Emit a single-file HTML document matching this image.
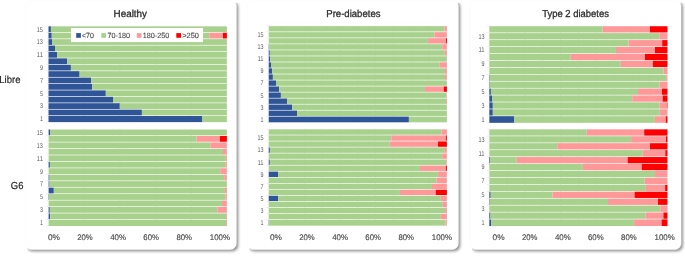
<!DOCTYPE html>
<html><head><meta charset="utf-8"><style>
html,body{margin:0;padding:0;background:#fff;}
body{width:685px;height:256px;overflow:hidden;position:relative;font-family:"Liberation Sans",sans-serif;}
svg{position:absolute;left:0;top:0;will-change:transform;}
text{font-family:"Liberation Sans",sans-serif;text-rendering:geometricPrecision;}
.yl{font-size:6.9px;fill:#5a5a5a;}
.xl{font-size:8.1px;fill:#4a4a4a;stroke:#4a4a4a;stroke-width:0.15px;}
.lg{font-size:7.5px;fill:#4a4a4a;stroke:#4a4a4a;stroke-width:0.12px;}
.tt{font-size:10.1px;fill:#2e2e2e;stroke:#2e2e2e;stroke-width:0.3px;}
.sd{font-size:10.1px;fill:#262626;stroke:#262626;stroke-width:0.2px;}
</style></head><body>
<svg width="685" height="256" viewBox="0 0 685 256">
<defs><filter id="sh" x="-5%" y="-5%" width="110%" height="110%"><feGaussianBlur stdDeviation="1.6"/></filter></defs>
<clipPath id="cp0"><rect x="27.5" y="2.7" width="221.6" height="260"/></clipPath>
<g clip-path="url(#cp0)"><rect x="26.6" y="1.3" width="211.6" height="250" rx="6" fill="#000" opacity="0.45" filter="url(#sh)"/></g>
<rect x="25.25" y="-0.05" width="211.1" height="249.5" rx="6" fill="#fff" stroke="#f8f8f8" stroke-width="0.5"/>
<clipPath id="cp1"><rect x="249.5" y="2.7" width="221.6" height="260"/></clipPath>
<g clip-path="url(#cp1)"><rect x="248.6" y="1.3" width="211.6" height="250" rx="6" fill="#000" opacity="0.45" filter="url(#sh)"/></g>
<rect x="247.25" y="-0.05" width="211.1" height="249.5" rx="6" fill="#fff" stroke="#f8f8f8" stroke-width="0.5"/>
<clipPath id="cp2"><rect x="472.2" y="2.7" width="221.6" height="260"/></clipPath>
<g clip-path="url(#cp2)"><rect x="471.3" y="1.3" width="211.6" height="250" rx="6" fill="#000" opacity="0.45" filter="url(#sh)"/></g>
<rect x="469.95" y="-0.05" width="211.1" height="249.5" rx="6" fill="#fff" stroke="#f8f8f8" stroke-width="0.5"/>

<line x1="84.18" y1="26" x2="84.18" y2="122.1" stroke="#d9d9d9" stroke-width="0.5"/>
<line x1="119.86" y1="26" x2="119.86" y2="122.1" stroke="#d9d9d9" stroke-width="0.5"/>
<line x1="155.54" y1="26" x2="155.54" y2="122.1" stroke="#d9d9d9" stroke-width="0.5"/>
<line x1="191.22" y1="26" x2="191.22" y2="122.1" stroke="#d9d9d9" stroke-width="0.5"/>
<line x1="46.3" y1="26" x2="48.5" y2="26" stroke="#d8d8d8" stroke-width="0.5"/>
<line x1="46.3" y1="32.41" x2="48.5" y2="32.41" stroke="#d8d8d8" stroke-width="0.5"/>
<line x1="46.3" y1="38.81" x2="48.5" y2="38.81" stroke="#d8d8d8" stroke-width="0.5"/>
<line x1="46.3" y1="45.22" x2="48.5" y2="45.22" stroke="#d8d8d8" stroke-width="0.5"/>
<line x1="46.3" y1="51.63" x2="48.5" y2="51.63" stroke="#d8d8d8" stroke-width="0.5"/>
<line x1="46.3" y1="58.03" x2="48.5" y2="58.03" stroke="#d8d8d8" stroke-width="0.5"/>
<line x1="46.3" y1="64.44" x2="48.5" y2="64.44" stroke="#d8d8d8" stroke-width="0.5"/>
<line x1="46.3" y1="70.85" x2="48.5" y2="70.85" stroke="#d8d8d8" stroke-width="0.5"/>
<line x1="46.3" y1="77.25" x2="48.5" y2="77.25" stroke="#d8d8d8" stroke-width="0.5"/>
<line x1="46.3" y1="83.66" x2="48.5" y2="83.66" stroke="#d8d8d8" stroke-width="0.5"/>
<line x1="46.3" y1="90.07" x2="48.5" y2="90.07" stroke="#d8d8d8" stroke-width="0.5"/>
<line x1="46.3" y1="96.47" x2="48.5" y2="96.47" stroke="#d8d8d8" stroke-width="0.5"/>
<line x1="46.3" y1="102.88" x2="48.5" y2="102.88" stroke="#d8d8d8" stroke-width="0.5"/>
<line x1="46.3" y1="109.29" x2="48.5" y2="109.29" stroke="#d8d8d8" stroke-width="0.5"/>
<line x1="46.3" y1="115.69" x2="48.5" y2="115.69" stroke="#d8d8d8" stroke-width="0.5"/>
<line x1="46.3" y1="122.1" x2="48.5" y2="122.1" stroke="#d8d8d8" stroke-width="0.5"/>
<rect x="48.5" y="26.32" width="2.4" height="5.76" fill="#2F5597"/>
<rect x="50.9" y="26.32" width="176" height="5.76" fill="#A9D18E"/>
<rect x="48.5" y="32.73" width="3.25" height="5.76" fill="#2F5597"/>
<rect x="51.75" y="32.73" width="157.45" height="5.76" fill="#A9D18E"/>
<rect x="209.2" y="32.73" width="13.8" height="5.76" fill="#FF9999"/>
<rect x="223" y="32.73" width="3.9" height="5.76" fill="#FF0000"/>
<rect x="48.5" y="39.14" width="3.6" height="5.76" fill="#2F5597"/>
<rect x="52.1" y="39.14" width="174.8" height="5.76" fill="#A9D18E"/>
<rect x="48.5" y="45.55" width="6.5" height="5.76" fill="#2F5597"/>
<rect x="55" y="45.55" width="171.9" height="5.76" fill="#A9D18E"/>
<rect x="48.5" y="51.95" width="8.6" height="5.76" fill="#2F5597"/>
<rect x="57.1" y="51.95" width="169.8" height="5.76" fill="#A9D18E"/>
<rect x="48.5" y="58.36" width="18.6" height="5.76" fill="#2F5597"/>
<rect x="67.1" y="58.36" width="159.8" height="5.76" fill="#A9D18E"/>
<rect x="48.5" y="64.77" width="22.4" height="5.76" fill="#2F5597"/>
<rect x="70.9" y="64.77" width="156" height="5.76" fill="#A9D18E"/>
<rect x="48.5" y="71.17" width="31.1" height="5.76" fill="#2F5597"/>
<rect x="79.6" y="71.17" width="147.3" height="5.76" fill="#A9D18E"/>
<rect x="48.5" y="77.58" width="42.7" height="5.76" fill="#2F5597"/>
<rect x="91.2" y="77.58" width="135.7" height="5.76" fill="#A9D18E"/>
<rect x="48.5" y="83.98" width="43.7" height="5.76" fill="#2F5597"/>
<rect x="92.2" y="83.98" width="134.7" height="5.76" fill="#A9D18E"/>
<rect x="48.5" y="90.39" width="57.3" height="5.76" fill="#2F5597"/>
<rect x="105.8" y="90.39" width="121.1" height="5.76" fill="#A9D18E"/>
<rect x="48.5" y="96.8" width="64.5" height="5.76" fill="#2F5597"/>
<rect x="113" y="96.8" width="113.9" height="5.76" fill="#A9D18E"/>
<rect x="48.5" y="103.2" width="71.3" height="5.76" fill="#2F5597"/>
<rect x="119.8" y="103.2" width="107.1" height="5.76" fill="#A9D18E"/>
<rect x="48.5" y="109.61" width="93.4" height="5.76" fill="#2F5597"/>
<rect x="141.9" y="109.61" width="85" height="5.76" fill="#A9D18E"/>
<rect x="48.5" y="116.02" width="153.5" height="6.11" fill="#2F5597"/>
<rect x="202" y="116.02" width="24.9" height="6.11" fill="#A9D18E"/>
<line x1="84.26" y1="129.2" x2="84.26" y2="226" stroke="#d9d9d9" stroke-width="0.5"/>
<line x1="119.92" y1="129.2" x2="119.92" y2="226" stroke="#d9d9d9" stroke-width="0.5"/>
<line x1="155.58" y1="129.2" x2="155.58" y2="226" stroke="#d9d9d9" stroke-width="0.5"/>
<line x1="191.24" y1="129.2" x2="191.24" y2="226" stroke="#d9d9d9" stroke-width="0.5"/>
<line x1="46.4" y1="129.2" x2="48.6" y2="129.2" stroke="#d8d8d8" stroke-width="0.5"/>
<line x1="46.4" y1="135.65" x2="48.6" y2="135.65" stroke="#d8d8d8" stroke-width="0.5"/>
<line x1="46.4" y1="142.11" x2="48.6" y2="142.11" stroke="#d8d8d8" stroke-width="0.5"/>
<line x1="46.4" y1="148.56" x2="48.6" y2="148.56" stroke="#d8d8d8" stroke-width="0.5"/>
<line x1="46.4" y1="155.01" x2="48.6" y2="155.01" stroke="#d8d8d8" stroke-width="0.5"/>
<line x1="46.4" y1="161.47" x2="48.6" y2="161.47" stroke="#d8d8d8" stroke-width="0.5"/>
<line x1="46.4" y1="167.92" x2="48.6" y2="167.92" stroke="#d8d8d8" stroke-width="0.5"/>
<line x1="46.4" y1="174.37" x2="48.6" y2="174.37" stroke="#d8d8d8" stroke-width="0.5"/>
<line x1="46.4" y1="180.83" x2="48.6" y2="180.83" stroke="#d8d8d8" stroke-width="0.5"/>
<line x1="46.4" y1="187.28" x2="48.6" y2="187.28" stroke="#d8d8d8" stroke-width="0.5"/>
<line x1="46.4" y1="193.73" x2="48.6" y2="193.73" stroke="#d8d8d8" stroke-width="0.5"/>
<line x1="46.4" y1="200.19" x2="48.6" y2="200.19" stroke="#d8d8d8" stroke-width="0.5"/>
<line x1="46.4" y1="206.64" x2="48.6" y2="206.64" stroke="#d8d8d8" stroke-width="0.5"/>
<line x1="46.4" y1="213.09" x2="48.6" y2="213.09" stroke="#d8d8d8" stroke-width="0.5"/>
<line x1="46.4" y1="219.55" x2="48.6" y2="219.55" stroke="#d8d8d8" stroke-width="0.5"/>
<line x1="46.4" y1="226" x2="48.6" y2="226" stroke="#d8d8d8" stroke-width="0.5"/>
<rect x="48.6" y="129.52" width="1.4" height="5.8" fill="#2F5597"/>
<rect x="50" y="129.52" width="176.9" height="5.8" fill="#A9D18E"/>
<rect x="48.6" y="135.98" width="148" height="5.8" fill="#A9D18E"/>
<rect x="196.6" y="135.98" width="23.4" height="5.8" fill="#FF9999"/>
<rect x="220" y="135.98" width="6.9" height="5.8" fill="#FF0000"/>
<rect x="48.6" y="142.43" width="161.7" height="5.8" fill="#A9D18E"/>
<rect x="210.3" y="142.43" width="16.6" height="5.8" fill="#FF9999"/>
<rect x="48.6" y="148.88" width="174.4" height="5.8" fill="#A9D18E"/>
<rect x="223" y="148.88" width="3.9" height="5.8" fill="#FF9999"/>
<rect x="48.6" y="155.34" width="177.3" height="5.8" fill="#A9D18E"/>
<rect x="225.9" y="155.34" width="1" height="5.8" fill="#FF9999"/>
<rect x="48.6" y="161.79" width="1.3" height="5.8" fill="#2F5597"/>
<rect x="49.9" y="161.79" width="175.4" height="5.8" fill="#A9D18E"/>
<rect x="225.3" y="161.79" width="1.6" height="5.8" fill="#FF9999"/>
<rect x="48.6" y="168.24" width="171.6" height="5.8" fill="#A9D18E"/>
<rect x="220.2" y="168.24" width="6.7" height="5.8" fill="#FF9999"/>
<rect x="48.6" y="174.7" width="0.9" height="5.8" fill="#2F5597"/>
<rect x="49.5" y="174.7" width="174.7" height="5.8" fill="#A9D18E"/>
<rect x="224.2" y="174.7" width="2.7" height="5.8" fill="#FF9999"/>
<rect x="48.6" y="181.15" width="0.9" height="5.8" fill="#2F5597"/>
<rect x="49.5" y="181.15" width="177.4" height="5.8" fill="#A9D18E"/>
<rect x="48.6" y="187.6" width="5.2" height="5.8" fill="#2F5597"/>
<rect x="53.8" y="187.6" width="171.1" height="5.8" fill="#A9D18E"/>
<rect x="224.9" y="187.6" width="2" height="5.8" fill="#FF9999"/>
<rect x="48.6" y="194.06" width="0.4" height="5.8" fill="#2F5597"/>
<rect x="49" y="194.06" width="176.4" height="5.8" fill="#A9D18E"/>
<rect x="225.4" y="194.06" width="1.5" height="5.8" fill="#FF9999"/>
<rect x="48.6" y="200.51" width="173.4" height="5.8" fill="#A9D18E"/>
<rect x="222" y="200.51" width="4.9" height="5.8" fill="#FF9999"/>
<rect x="48.6" y="206.96" width="1.2" height="5.8" fill="#2F5597"/>
<rect x="49.8" y="206.96" width="167.6" height="5.8" fill="#A9D18E"/>
<rect x="217.4" y="206.96" width="9.5" height="5.8" fill="#FF9999"/>
<rect x="48.6" y="213.42" width="1.6" height="5.8" fill="#2F5597"/>
<rect x="50.2" y="213.42" width="175.8" height="5.8" fill="#A9D18E"/>
<rect x="226" y="213.42" width="0.9" height="5.8" fill="#FF9999"/>
<rect x="48.6" y="219.87" width="177.4" height="6.15" fill="#A9D18E"/>
<rect x="226" y="219.87" width="0.9" height="6.15" fill="#FF9999"/>
<line x1="286.52" y1="25.8" x2="286.52" y2="122.3" stroke="#d9d9d9" stroke-width="0.5"/>
<line x1="304.34" y1="25.8" x2="304.34" y2="122.3" stroke="#d9d9d9" stroke-width="0.5"/>
<line x1="322.16" y1="25.8" x2="322.16" y2="122.3" stroke="#d9d9d9" stroke-width="0.5"/>
<line x1="339.98" y1="25.8" x2="339.98" y2="122.3" stroke="#d9d9d9" stroke-width="0.5"/>
<line x1="357.8" y1="25.8" x2="357.8" y2="122.3" stroke="#d9d9d9" stroke-width="0.5"/>
<line x1="375.62" y1="25.8" x2="375.62" y2="122.3" stroke="#d9d9d9" stroke-width="0.5"/>
<line x1="393.44" y1="25.8" x2="393.44" y2="122.3" stroke="#d9d9d9" stroke-width="0.5"/>
<line x1="411.26" y1="25.8" x2="411.26" y2="122.3" stroke="#d9d9d9" stroke-width="0.5"/>
<line x1="429.08" y1="25.8" x2="429.08" y2="122.3" stroke="#d9d9d9" stroke-width="0.5"/>
<line x1="266.5" y1="25.8" x2="268.7" y2="25.8" stroke="#d8d8d8" stroke-width="0.5"/>
<line x1="266.5" y1="31.83" x2="268.7" y2="31.83" stroke="#d8d8d8" stroke-width="0.5"/>
<line x1="266.5" y1="37.86" x2="268.7" y2="37.86" stroke="#d8d8d8" stroke-width="0.5"/>
<line x1="266.5" y1="43.89" x2="268.7" y2="43.89" stroke="#d8d8d8" stroke-width="0.5"/>
<line x1="266.5" y1="49.92" x2="268.7" y2="49.92" stroke="#d8d8d8" stroke-width="0.5"/>
<line x1="266.5" y1="55.96" x2="268.7" y2="55.96" stroke="#d8d8d8" stroke-width="0.5"/>
<line x1="266.5" y1="61.99" x2="268.7" y2="61.99" stroke="#d8d8d8" stroke-width="0.5"/>
<line x1="266.5" y1="68.02" x2="268.7" y2="68.02" stroke="#d8d8d8" stroke-width="0.5"/>
<line x1="266.5" y1="74.05" x2="268.7" y2="74.05" stroke="#d8d8d8" stroke-width="0.5"/>
<line x1="266.5" y1="80.08" x2="268.7" y2="80.08" stroke="#d8d8d8" stroke-width="0.5"/>
<line x1="266.5" y1="86.11" x2="268.7" y2="86.11" stroke="#d8d8d8" stroke-width="0.5"/>
<line x1="266.5" y1="92.14" x2="268.7" y2="92.14" stroke="#d8d8d8" stroke-width="0.5"/>
<line x1="266.5" y1="98.17" x2="268.7" y2="98.17" stroke="#d8d8d8" stroke-width="0.5"/>
<line x1="266.5" y1="104.21" x2="268.7" y2="104.21" stroke="#d8d8d8" stroke-width="0.5"/>
<line x1="266.5" y1="110.24" x2="268.7" y2="110.24" stroke="#d8d8d8" stroke-width="0.5"/>
<line x1="266.5" y1="116.27" x2="268.7" y2="116.27" stroke="#d8d8d8" stroke-width="0.5"/>
<line x1="266.5" y1="122.3" x2="268.7" y2="122.3" stroke="#d8d8d8" stroke-width="0.5"/>
<rect x="268.7" y="26.12" width="175.8" height="5.38" fill="#A9D18E"/>
<rect x="444.5" y="26.12" width="2.4" height="5.38" fill="#FF9999"/>
<rect x="268.7" y="32.16" width="165.7" height="5.38" fill="#A9D18E"/>
<rect x="434.4" y="32.16" width="12.5" height="5.38" fill="#FF9999"/>
<rect x="268.7" y="38.19" width="159.4" height="5.38" fill="#A9D18E"/>
<rect x="428.1" y="38.19" width="17.7" height="5.38" fill="#FF9999"/>
<rect x="445.8" y="38.19" width="1.1" height="5.38" fill="#FF0000"/>
<rect x="268.7" y="44.22" width="0.4" height="5.38" fill="#2F5597"/>
<rect x="269.1" y="44.22" width="173.1" height="5.38" fill="#A9D18E"/>
<rect x="442.2" y="44.22" width="4.7" height="5.38" fill="#FF9999"/>
<rect x="268.7" y="50.25" width="1.1" height="5.38" fill="#2F5597"/>
<rect x="269.8" y="50.25" width="175" height="5.38" fill="#A9D18E"/>
<rect x="444.8" y="50.25" width="2.1" height="5.38" fill="#FF9999"/>
<rect x="268.7" y="56.28" width="1.4" height="5.38" fill="#2F5597"/>
<rect x="270.1" y="56.28" width="176.8" height="5.38" fill="#A9D18E"/>
<rect x="268.7" y="62.31" width="2.3" height="5.38" fill="#2F5597"/>
<rect x="271" y="62.31" width="168.8" height="5.38" fill="#A9D18E"/>
<rect x="439.8" y="62.31" width="7.1" height="5.38" fill="#FF9999"/>
<rect x="268.7" y="68.34" width="3.4" height="5.38" fill="#2F5597"/>
<rect x="272.1" y="68.34" width="172.9" height="5.38" fill="#A9D18E"/>
<rect x="445" y="68.34" width="1.9" height="5.38" fill="#FF9999"/>
<rect x="268.7" y="74.38" width="4.2" height="5.38" fill="#2F5597"/>
<rect x="272.9" y="74.38" width="172.1" height="5.38" fill="#A9D18E"/>
<rect x="445" y="74.38" width="1.9" height="5.38" fill="#FF9999"/>
<rect x="268.7" y="80.41" width="7.3" height="5.38" fill="#2F5597"/>
<rect x="276" y="80.41" width="170.9" height="5.38" fill="#A9D18E"/>
<rect x="268.7" y="86.44" width="10.5" height="5.38" fill="#2F5597"/>
<rect x="279.2" y="86.44" width="145.8" height="5.38" fill="#A9D18E"/>
<rect x="425" y="86.44" width="18.75" height="5.38" fill="#FF9999"/>
<rect x="443.75" y="86.44" width="3.15" height="5.38" fill="#FF0000"/>
<rect x="268.7" y="92.47" width="12.2" height="5.38" fill="#2F5597"/>
<rect x="280.9" y="92.47" width="165.5" height="5.38" fill="#A9D18E"/>
<rect x="446.4" y="92.47" width="0.5" height="5.38" fill="#FF9999"/>
<rect x="268.7" y="98.5" width="18.4" height="5.38" fill="#2F5597"/>
<rect x="287.1" y="98.5" width="158.9" height="5.38" fill="#A9D18E"/>
<rect x="446" y="98.5" width="0.9" height="5.38" fill="#FF9999"/>
<rect x="268.7" y="104.53" width="23.4" height="5.38" fill="#2F5597"/>
<rect x="292.1" y="104.53" width="154.8" height="5.38" fill="#A9D18E"/>
<rect x="268.7" y="110.56" width="28.4" height="5.38" fill="#2F5597"/>
<rect x="297.1" y="110.56" width="149.8" height="5.38" fill="#A9D18E"/>
<rect x="268.7" y="116.59" width="140.2" height="5.73" fill="#2F5597"/>
<rect x="408.9" y="116.59" width="38" height="5.73" fill="#A9D18E"/>
<line x1="286.52" y1="129" x2="286.52" y2="225.6" stroke="#d9d9d9" stroke-width="0.5"/>
<line x1="304.34" y1="129" x2="304.34" y2="225.6" stroke="#d9d9d9" stroke-width="0.5"/>
<line x1="322.16" y1="129" x2="322.16" y2="225.6" stroke="#d9d9d9" stroke-width="0.5"/>
<line x1="339.98" y1="129" x2="339.98" y2="225.6" stroke="#d9d9d9" stroke-width="0.5"/>
<line x1="357.8" y1="129" x2="357.8" y2="225.6" stroke="#d9d9d9" stroke-width="0.5"/>
<line x1="375.62" y1="129" x2="375.62" y2="225.6" stroke="#d9d9d9" stroke-width="0.5"/>
<line x1="393.44" y1="129" x2="393.44" y2="225.6" stroke="#d9d9d9" stroke-width="0.5"/>
<line x1="411.26" y1="129" x2="411.26" y2="225.6" stroke="#d9d9d9" stroke-width="0.5"/>
<line x1="429.08" y1="129" x2="429.08" y2="225.6" stroke="#d9d9d9" stroke-width="0.5"/>
<line x1="266.5" y1="129" x2="268.7" y2="129" stroke="#d8d8d8" stroke-width="0.5"/>
<line x1="266.5" y1="135.04" x2="268.7" y2="135.04" stroke="#d8d8d8" stroke-width="0.5"/>
<line x1="266.5" y1="141.07" x2="268.7" y2="141.07" stroke="#d8d8d8" stroke-width="0.5"/>
<line x1="266.5" y1="147.11" x2="268.7" y2="147.11" stroke="#d8d8d8" stroke-width="0.5"/>
<line x1="266.5" y1="153.15" x2="268.7" y2="153.15" stroke="#d8d8d8" stroke-width="0.5"/>
<line x1="266.5" y1="159.19" x2="268.7" y2="159.19" stroke="#d8d8d8" stroke-width="0.5"/>
<line x1="266.5" y1="165.22" x2="268.7" y2="165.22" stroke="#d8d8d8" stroke-width="0.5"/>
<line x1="266.5" y1="171.26" x2="268.7" y2="171.26" stroke="#d8d8d8" stroke-width="0.5"/>
<line x1="266.5" y1="177.3" x2="268.7" y2="177.3" stroke="#d8d8d8" stroke-width="0.5"/>
<line x1="266.5" y1="183.34" x2="268.7" y2="183.34" stroke="#d8d8d8" stroke-width="0.5"/>
<line x1="266.5" y1="189.38" x2="268.7" y2="189.38" stroke="#d8d8d8" stroke-width="0.5"/>
<line x1="266.5" y1="195.41" x2="268.7" y2="195.41" stroke="#d8d8d8" stroke-width="0.5"/>
<line x1="266.5" y1="201.45" x2="268.7" y2="201.45" stroke="#d8d8d8" stroke-width="0.5"/>
<line x1="266.5" y1="207.49" x2="268.7" y2="207.49" stroke="#d8d8d8" stroke-width="0.5"/>
<line x1="266.5" y1="213.52" x2="268.7" y2="213.52" stroke="#d8d8d8" stroke-width="0.5"/>
<line x1="266.5" y1="219.56" x2="268.7" y2="219.56" stroke="#d8d8d8" stroke-width="0.5"/>
<line x1="266.5" y1="225.6" x2="268.7" y2="225.6" stroke="#d8d8d8" stroke-width="0.5"/>
<rect x="268.7" y="129.32" width="172.8" height="5.39" fill="#A9D18E"/>
<rect x="441.5" y="129.32" width="5.4" height="5.39" fill="#FF9999"/>
<rect x="268.7" y="135.36" width="122.6" height="5.39" fill="#A9D18E"/>
<rect x="391.3" y="135.36" width="54.5" height="5.39" fill="#FF9999"/>
<rect x="445.8" y="135.36" width="1.1" height="5.39" fill="#FF0000"/>
<rect x="268.7" y="141.4" width="121.1" height="5.39" fill="#A9D18E"/>
<rect x="389.8" y="141.4" width="48.2" height="5.39" fill="#FF9999"/>
<rect x="438" y="141.4" width="8.9" height="5.39" fill="#FF0000"/>
<rect x="268.7" y="147.44" width="1.2" height="5.39" fill="#2F5597"/>
<rect x="269.9" y="147.44" width="174.9" height="5.39" fill="#A9D18E"/>
<rect x="444.8" y="147.44" width="2.1" height="5.39" fill="#FF9999"/>
<rect x="268.7" y="153.47" width="173.4" height="5.39" fill="#A9D18E"/>
<rect x="442.1" y="153.47" width="4.8" height="5.39" fill="#FF9999"/>
<rect x="268.7" y="159.51" width="1.1" height="5.39" fill="#2F5597"/>
<rect x="269.8" y="159.51" width="176.4" height="5.39" fill="#A9D18E"/>
<rect x="446.2" y="159.51" width="0.7" height="5.39" fill="#FF9999"/>
<rect x="268.7" y="165.55" width="151.3" height="5.39" fill="#A9D18E"/>
<rect x="420" y="165.55" width="25.8" height="5.39" fill="#FF9999"/>
<rect x="445.8" y="165.55" width="1.1" height="5.39" fill="#FF0000"/>
<rect x="268.7" y="171.59" width="9.4" height="5.39" fill="#2F5597"/>
<rect x="278.1" y="171.59" width="160" height="5.39" fill="#A9D18E"/>
<rect x="438.1" y="171.59" width="8.8" height="5.39" fill="#FF9999"/>
<rect x="268.7" y="177.62" width="168" height="5.39" fill="#A9D18E"/>
<rect x="436.7" y="177.62" width="10.2" height="5.39" fill="#FF9999"/>
<rect x="268.7" y="183.66" width="163.3" height="5.39" fill="#A9D18E"/>
<rect x="432" y="183.66" width="14.9" height="5.39" fill="#FF9999"/>
<rect x="268.7" y="189.7" width="131.2" height="5.39" fill="#A9D18E"/>
<rect x="399.9" y="189.7" width="35.8" height="5.39" fill="#FF9999"/>
<rect x="435.7" y="189.7" width="11.2" height="5.39" fill="#FF0000"/>
<rect x="268.7" y="195.74" width="9.4" height="5.39" fill="#2F5597"/>
<rect x="278.1" y="195.74" width="162.8" height="5.39" fill="#A9D18E"/>
<rect x="440.9" y="195.74" width="6" height="5.39" fill="#FF9999"/>
<rect x="268.7" y="201.77" width="174.1" height="5.39" fill="#A9D18E"/>
<rect x="442.8" y="201.77" width="4.1" height="5.39" fill="#FF9999"/>
<rect x="268.7" y="207.81" width="176.4" height="5.39" fill="#A9D18E"/>
<rect x="445.1" y="207.81" width="1.8" height="5.39" fill="#FF9999"/>
<rect x="268.7" y="213.85" width="172.2" height="5.39" fill="#A9D18E"/>
<rect x="440.9" y="213.85" width="6" height="5.39" fill="#FF9999"/>
<rect x="268.7" y="219.89" width="0.5" height="5.74" fill="#2F5597"/>
<rect x="269.2" y="219.89" width="176.4" height="5.74" fill="#A9D18E"/>
<rect x="445.6" y="219.89" width="1.3" height="5.74" fill="#FF9999"/>
<line x1="507.12" y1="25.9" x2="507.12" y2="122.8" stroke="#d9d9d9" stroke-width="0.5"/>
<line x1="524.94" y1="25.9" x2="524.94" y2="122.8" stroke="#d9d9d9" stroke-width="0.5"/>
<line x1="542.76" y1="25.9" x2="542.76" y2="122.8" stroke="#d9d9d9" stroke-width="0.5"/>
<line x1="560.58" y1="25.9" x2="560.58" y2="122.8" stroke="#d9d9d9" stroke-width="0.5"/>
<line x1="578.4" y1="25.9" x2="578.4" y2="122.8" stroke="#d9d9d9" stroke-width="0.5"/>
<line x1="596.22" y1="25.9" x2="596.22" y2="122.8" stroke="#d9d9d9" stroke-width="0.5"/>
<line x1="614.04" y1="25.9" x2="614.04" y2="122.8" stroke="#d9d9d9" stroke-width="0.5"/>
<line x1="631.86" y1="25.9" x2="631.86" y2="122.8" stroke="#d9d9d9" stroke-width="0.5"/>
<line x1="649.68" y1="25.9" x2="649.68" y2="122.8" stroke="#d9d9d9" stroke-width="0.5"/>
<line x1="487.1" y1="25.9" x2="489.3" y2="25.9" stroke="#d8d8d8" stroke-width="0.5"/>
<line x1="487.1" y1="32.82" x2="489.3" y2="32.82" stroke="#d8d8d8" stroke-width="0.5"/>
<line x1="487.1" y1="39.74" x2="489.3" y2="39.74" stroke="#d8d8d8" stroke-width="0.5"/>
<line x1="487.1" y1="46.66" x2="489.3" y2="46.66" stroke="#d8d8d8" stroke-width="0.5"/>
<line x1="487.1" y1="53.59" x2="489.3" y2="53.59" stroke="#d8d8d8" stroke-width="0.5"/>
<line x1="487.1" y1="60.51" x2="489.3" y2="60.51" stroke="#d8d8d8" stroke-width="0.5"/>
<line x1="487.1" y1="67.43" x2="489.3" y2="67.43" stroke="#d8d8d8" stroke-width="0.5"/>
<line x1="487.1" y1="74.35" x2="489.3" y2="74.35" stroke="#d8d8d8" stroke-width="0.5"/>
<line x1="487.1" y1="81.27" x2="489.3" y2="81.27" stroke="#d8d8d8" stroke-width="0.5"/>
<line x1="487.1" y1="88.19" x2="489.3" y2="88.19" stroke="#d8d8d8" stroke-width="0.5"/>
<line x1="487.1" y1="95.11" x2="489.3" y2="95.11" stroke="#d8d8d8" stroke-width="0.5"/>
<line x1="487.1" y1="102.04" x2="489.3" y2="102.04" stroke="#d8d8d8" stroke-width="0.5"/>
<line x1="487.1" y1="108.96" x2="489.3" y2="108.96" stroke="#d8d8d8" stroke-width="0.5"/>
<line x1="487.1" y1="115.88" x2="489.3" y2="115.88" stroke="#d8d8d8" stroke-width="0.5"/>
<line x1="487.1" y1="122.8" x2="489.3" y2="122.8" stroke="#d8d8d8" stroke-width="0.5"/>
<rect x="489.3" y="26.22" width="113.4" height="6.27" fill="#A9D18E"/>
<rect x="602.7" y="26.22" width="47.2" height="6.27" fill="#FF9999"/>
<rect x="649.9" y="26.22" width="17.6" height="6.27" fill="#FF0000"/>
<rect x="489.3" y="33.15" width="170" height="6.27" fill="#A9D18E"/>
<rect x="659.3" y="33.15" width="8.2" height="6.27" fill="#FF9999"/>
<rect x="489.3" y="40.07" width="139.3" height="6.27" fill="#A9D18E"/>
<rect x="628.6" y="40.07" width="33.6" height="6.27" fill="#FF9999"/>
<rect x="662.2" y="40.07" width="5.3" height="6.27" fill="#FF0000"/>
<rect x="489.3" y="46.99" width="126.7" height="6.27" fill="#A9D18E"/>
<rect x="616" y="46.99" width="39" height="6.27" fill="#FF9999"/>
<rect x="655" y="46.99" width="12.5" height="6.27" fill="#FF0000"/>
<rect x="489.3" y="53.91" width="81.5" height="6.27" fill="#A9D18E"/>
<rect x="570.8" y="53.91" width="74.2" height="6.27" fill="#FF9999"/>
<rect x="645" y="53.91" width="22.5" height="6.27" fill="#FF0000"/>
<rect x="489.3" y="60.83" width="131.5" height="6.27" fill="#A9D18E"/>
<rect x="620.8" y="60.83" width="32" height="6.27" fill="#FF9999"/>
<rect x="652.8" y="60.83" width="14.7" height="6.27" fill="#FF0000"/>
<rect x="489.3" y="67.75" width="174.2" height="6.27" fill="#A9D18E"/>
<rect x="663.5" y="67.75" width="4" height="6.27" fill="#FF9999"/>
<rect x="489.3" y="74.67" width="0.5" height="6.27" fill="#2F5597"/>
<rect x="489.8" y="74.67" width="176.4" height="6.27" fill="#A9D18E"/>
<rect x="666.2" y="74.67" width="1.3" height="6.27" fill="#FF9999"/>
<rect x="489.3" y="81.6" width="0.5" height="6.27" fill="#2F5597"/>
<rect x="489.8" y="81.6" width="169.8" height="6.27" fill="#A9D18E"/>
<rect x="659.6" y="81.6" width="7.9" height="6.27" fill="#FF9999"/>
<rect x="489.3" y="88.52" width="1.6" height="6.27" fill="#2F5597"/>
<rect x="490.9" y="88.52" width="147.1" height="6.27" fill="#A9D18E"/>
<rect x="638" y="88.52" width="24" height="6.27" fill="#FF9999"/>
<rect x="662" y="88.52" width="5.5" height="6.27" fill="#FF0000"/>
<rect x="489.3" y="95.44" width="2.7" height="6.27" fill="#2F5597"/>
<rect x="492" y="95.44" width="140.2" height="6.27" fill="#A9D18E"/>
<rect x="632.2" y="95.44" width="30.5" height="6.27" fill="#FF9999"/>
<rect x="662.7" y="95.44" width="4.8" height="6.27" fill="#FF0000"/>
<rect x="489.3" y="102.36" width="3.5" height="6.27" fill="#2F5597"/>
<rect x="492.8" y="102.36" width="166.8" height="6.27" fill="#A9D18E"/>
<rect x="659.6" y="102.36" width="7.3" height="6.27" fill="#FF9999"/>
<rect x="666.9" y="102.36" width="0.6" height="6.27" fill="#FF0000"/>
<rect x="489.3" y="109.28" width="3.5" height="6.27" fill="#2F5597"/>
<rect x="492.8" y="109.28" width="167" height="6.27" fill="#A9D18E"/>
<rect x="659.8" y="109.28" width="7.7" height="6.27" fill="#FF9999"/>
<rect x="489.3" y="116.2" width="24.9" height="6.62" fill="#2F5597"/>
<rect x="514.2" y="116.2" width="140.7" height="6.62" fill="#A9D18E"/>
<rect x="654.9" y="116.2" width="10.8" height="6.62" fill="#FF9999"/>
<rect x="665.7" y="116.2" width="1.8" height="6.62" fill="#FF0000"/>
<line x1="507.12" y1="129" x2="507.12" y2="226" stroke="#d9d9d9" stroke-width="0.5"/>
<line x1="524.94" y1="129" x2="524.94" y2="226" stroke="#d9d9d9" stroke-width="0.5"/>
<line x1="542.76" y1="129" x2="542.76" y2="226" stroke="#d9d9d9" stroke-width="0.5"/>
<line x1="560.58" y1="129" x2="560.58" y2="226" stroke="#d9d9d9" stroke-width="0.5"/>
<line x1="578.4" y1="129" x2="578.4" y2="226" stroke="#d9d9d9" stroke-width="0.5"/>
<line x1="596.22" y1="129" x2="596.22" y2="226" stroke="#d9d9d9" stroke-width="0.5"/>
<line x1="614.04" y1="129" x2="614.04" y2="226" stroke="#d9d9d9" stroke-width="0.5"/>
<line x1="631.86" y1="129" x2="631.86" y2="226" stroke="#d9d9d9" stroke-width="0.5"/>
<line x1="649.68" y1="129" x2="649.68" y2="226" stroke="#d9d9d9" stroke-width="0.5"/>
<line x1="487.1" y1="129" x2="489.3" y2="129" stroke="#d8d8d8" stroke-width="0.5"/>
<line x1="487.1" y1="135.93" x2="489.3" y2="135.93" stroke="#d8d8d8" stroke-width="0.5"/>
<line x1="487.1" y1="142.86" x2="489.3" y2="142.86" stroke="#d8d8d8" stroke-width="0.5"/>
<line x1="487.1" y1="149.79" x2="489.3" y2="149.79" stroke="#d8d8d8" stroke-width="0.5"/>
<line x1="487.1" y1="156.71" x2="489.3" y2="156.71" stroke="#d8d8d8" stroke-width="0.5"/>
<line x1="487.1" y1="163.64" x2="489.3" y2="163.64" stroke="#d8d8d8" stroke-width="0.5"/>
<line x1="487.1" y1="170.57" x2="489.3" y2="170.57" stroke="#d8d8d8" stroke-width="0.5"/>
<line x1="487.1" y1="177.5" x2="489.3" y2="177.5" stroke="#d8d8d8" stroke-width="0.5"/>
<line x1="487.1" y1="184.43" x2="489.3" y2="184.43" stroke="#d8d8d8" stroke-width="0.5"/>
<line x1="487.1" y1="191.36" x2="489.3" y2="191.36" stroke="#d8d8d8" stroke-width="0.5"/>
<line x1="487.1" y1="198.29" x2="489.3" y2="198.29" stroke="#d8d8d8" stroke-width="0.5"/>
<line x1="487.1" y1="205.21" x2="489.3" y2="205.21" stroke="#d8d8d8" stroke-width="0.5"/>
<line x1="487.1" y1="212.14" x2="489.3" y2="212.14" stroke="#d8d8d8" stroke-width="0.5"/>
<line x1="487.1" y1="219.07" x2="489.3" y2="219.07" stroke="#d8d8d8" stroke-width="0.5"/>
<line x1="487.1" y1="226" x2="489.3" y2="226" stroke="#d8d8d8" stroke-width="0.5"/>
<rect x="489.3" y="129.32" width="97.5" height="6.28" fill="#A9D18E"/>
<rect x="586.8" y="129.32" width="57.4" height="6.28" fill="#FF9999"/>
<rect x="644.2" y="129.32" width="23.3" height="6.28" fill="#FF0000"/>
<rect x="489.3" y="136.25" width="141.8" height="6.28" fill="#A9D18E"/>
<rect x="631.1" y="136.25" width="34.9" height="6.28" fill="#FF9999"/>
<rect x="666" y="136.25" width="1.5" height="6.28" fill="#FF0000"/>
<rect x="489.3" y="143.18" width="67.9" height="6.28" fill="#A9D18E"/>
<rect x="557.2" y="143.18" width="92.8" height="6.28" fill="#FF9999"/>
<rect x="650" y="143.18" width="17.5" height="6.28" fill="#FF0000"/>
<rect x="489.3" y="150.11" width="153.5" height="6.28" fill="#A9D18E"/>
<rect x="642.8" y="150.11" width="22.5" height="6.28" fill="#FF9999"/>
<rect x="665.3" y="150.11" width="2.2" height="6.28" fill="#FF0000"/>
<rect x="489.3" y="157.04" width="0.7" height="6.28" fill="#2F5597"/>
<rect x="490" y="157.04" width="26.8" height="6.28" fill="#A9D18E"/>
<rect x="516.8" y="157.04" width="110.8" height="6.28" fill="#FF9999"/>
<rect x="627.6" y="157.04" width="39.9" height="6.28" fill="#FF0000"/>
<rect x="489.3" y="163.97" width="93.6" height="6.28" fill="#A9D18E"/>
<rect x="582.9" y="163.97" width="58.8" height="6.28" fill="#FF9999"/>
<rect x="641.7" y="163.97" width="25.8" height="6.28" fill="#FF0000"/>
<rect x="489.3" y="170.9" width="165.7" height="6.28" fill="#A9D18E"/>
<rect x="655" y="170.9" width="12.5" height="6.28" fill="#FF9999"/>
<rect x="489.3" y="177.82" width="155.4" height="6.28" fill="#A9D18E"/>
<rect x="644.7" y="177.82" width="22.8" height="6.28" fill="#FF9999"/>
<rect x="489.3" y="184.75" width="156.6" height="6.28" fill="#A9D18E"/>
<rect x="645.9" y="184.75" width="19.2" height="6.28" fill="#FF9999"/>
<rect x="665.1" y="184.75" width="2.4" height="6.28" fill="#FF0000"/>
<rect x="489.3" y="191.68" width="1.4" height="6.28" fill="#2F5597"/>
<rect x="490.7" y="191.68" width="61.7" height="6.28" fill="#A9D18E"/>
<rect x="552.4" y="191.68" width="82.2" height="6.28" fill="#FF9999"/>
<rect x="634.6" y="191.68" width="32.9" height="6.28" fill="#FF0000"/>
<rect x="489.3" y="198.61" width="0.5" height="6.28" fill="#2F5597"/>
<rect x="489.8" y="198.61" width="118.2" height="6.28" fill="#A9D18E"/>
<rect x="608" y="198.61" width="50" height="6.28" fill="#FF9999"/>
<rect x="658" y="198.61" width="9.5" height="6.28" fill="#FF0000"/>
<rect x="489.3" y="205.54" width="171.1" height="6.28" fill="#A9D18E"/>
<rect x="660.4" y="205.54" width="7.1" height="6.28" fill="#FF9999"/>
<rect x="489.3" y="212.47" width="1.2" height="6.28" fill="#2F5597"/>
<rect x="490.5" y="212.47" width="155.1" height="6.28" fill="#A9D18E"/>
<rect x="645.6" y="212.47" width="17.8" height="6.28" fill="#FF9999"/>
<rect x="663.4" y="212.47" width="4.1" height="6.28" fill="#FF0000"/>
<rect x="489.3" y="219.4" width="1.9" height="6.63" fill="#2F5597"/>
<rect x="491.2" y="219.4" width="142.9" height="6.63" fill="#A9D18E"/>
<rect x="634.1" y="219.4" width="27.5" height="6.63" fill="#FF9999"/>
<rect x="661.6" y="219.4" width="5.9" height="6.63" fill="#FF0000"/>
<text x="42.9" y="31.55" text-anchor="end" textLength="6.1" lengthAdjust="spacingAndGlyphs" class="yl">15</text>
<text x="42.9" y="44.37" text-anchor="end" textLength="6.1" lengthAdjust="spacingAndGlyphs" class="yl">13</text>
<text x="42.9" y="57.18" text-anchor="end" textLength="6.1" lengthAdjust="spacingAndGlyphs" class="yl">11</text>
<text x="42.9" y="69.99" text-anchor="end" textLength="3.0" lengthAdjust="spacingAndGlyphs" class="yl">9</text>
<text x="42.9" y="82.81" text-anchor="end" textLength="3.0" lengthAdjust="spacingAndGlyphs" class="yl">7</text>
<text x="42.9" y="95.62" text-anchor="end" textLength="3.0" lengthAdjust="spacingAndGlyphs" class="yl">5</text>
<text x="42.9" y="108.43" text-anchor="end" textLength="3.0" lengthAdjust="spacingAndGlyphs" class="yl">3</text>
<text x="42.9" y="121.25" text-anchor="end" textLength="3.0" lengthAdjust="spacingAndGlyphs" class="yl">1</text>
<text x="42.9" y="134.78" text-anchor="end" textLength="6.1" lengthAdjust="spacingAndGlyphs" class="yl">15</text>
<text x="42.9" y="147.68" text-anchor="end" textLength="6.1" lengthAdjust="spacingAndGlyphs" class="yl">13</text>
<text x="42.9" y="160.59" text-anchor="end" textLength="6.1" lengthAdjust="spacingAndGlyphs" class="yl">11</text>
<text x="42.9" y="173.5" text-anchor="end" textLength="3.0" lengthAdjust="spacingAndGlyphs" class="yl">9</text>
<text x="42.9" y="186.4" text-anchor="end" textLength="3.0" lengthAdjust="spacingAndGlyphs" class="yl">7</text>
<text x="42.9" y="199.31" text-anchor="end" textLength="3.0" lengthAdjust="spacingAndGlyphs" class="yl">5</text>
<text x="42.9" y="212.22" text-anchor="end" textLength="3.0" lengthAdjust="spacingAndGlyphs" class="yl">3</text>
<text x="42.9" y="225.12" text-anchor="end" textLength="3.0" lengthAdjust="spacingAndGlyphs" class="yl">1</text>
<text x="263.5" y="37.2" text-anchor="end" textLength="6.1" lengthAdjust="spacingAndGlyphs" class="yl">15</text>
<text x="263.5" y="49.26" text-anchor="end" textLength="6.1" lengthAdjust="spacingAndGlyphs" class="yl">13</text>
<text x="263.5" y="61.32" text-anchor="end" textLength="6.1" lengthAdjust="spacingAndGlyphs" class="yl">11</text>
<text x="263.5" y="73.38" text-anchor="end" textLength="3.0" lengthAdjust="spacingAndGlyphs" class="yl">9</text>
<text x="263.5" y="85.45" text-anchor="end" textLength="3.0" lengthAdjust="spacingAndGlyphs" class="yl">7</text>
<text x="263.5" y="97.51" text-anchor="end" textLength="3.0" lengthAdjust="spacingAndGlyphs" class="yl">5</text>
<text x="263.5" y="109.57" text-anchor="end" textLength="3.0" lengthAdjust="spacingAndGlyphs" class="yl">3</text>
<text x="263.5" y="121.63" text-anchor="end" textLength="3.0" lengthAdjust="spacingAndGlyphs" class="yl">1</text>
<text x="263.5" y="140.41" text-anchor="end" textLength="6.1" lengthAdjust="spacingAndGlyphs" class="yl">15</text>
<text x="263.5" y="152.48" text-anchor="end" textLength="6.1" lengthAdjust="spacingAndGlyphs" class="yl">13</text>
<text x="263.5" y="164.56" text-anchor="end" textLength="6.1" lengthAdjust="spacingAndGlyphs" class="yl">11</text>
<text x="263.5" y="176.63" text-anchor="end" textLength="3.0" lengthAdjust="spacingAndGlyphs" class="yl">9</text>
<text x="263.5" y="188.71" text-anchor="end" textLength="3.0" lengthAdjust="spacingAndGlyphs" class="yl">7</text>
<text x="263.5" y="200.78" text-anchor="end" textLength="3.0" lengthAdjust="spacingAndGlyphs" class="yl">5</text>
<text x="263.5" y="212.86" text-anchor="end" textLength="3.0" lengthAdjust="spacingAndGlyphs" class="yl">3</text>
<text x="263.5" y="224.93" text-anchor="end" textLength="3.0" lengthAdjust="spacingAndGlyphs" class="yl">1</text>
<text x="484.5" y="38.63" text-anchor="end" textLength="6.1" lengthAdjust="spacingAndGlyphs" class="yl">13</text>
<text x="484.5" y="52.48" text-anchor="end" textLength="6.1" lengthAdjust="spacingAndGlyphs" class="yl">11</text>
<text x="484.5" y="66.32" text-anchor="end" textLength="3.0" lengthAdjust="spacingAndGlyphs" class="yl">9</text>
<text x="484.5" y="80.16" text-anchor="end" textLength="3.0" lengthAdjust="spacingAndGlyphs" class="yl">7</text>
<text x="484.5" y="94" text-anchor="end" textLength="3.0" lengthAdjust="spacingAndGlyphs" class="yl">5</text>
<text x="484.5" y="107.85" text-anchor="end" textLength="3.0" lengthAdjust="spacingAndGlyphs" class="yl">3</text>
<text x="484.5" y="121.69" text-anchor="end" textLength="3.0" lengthAdjust="spacingAndGlyphs" class="yl">1</text>
<text x="484.5" y="141.74" text-anchor="end" textLength="6.1" lengthAdjust="spacingAndGlyphs" class="yl">13</text>
<text x="484.5" y="155.6" text-anchor="end" textLength="6.1" lengthAdjust="spacingAndGlyphs" class="yl">11</text>
<text x="484.5" y="169.46" text-anchor="end" textLength="3.0" lengthAdjust="spacingAndGlyphs" class="yl">9</text>
<text x="484.5" y="183.31" text-anchor="end" textLength="3.0" lengthAdjust="spacingAndGlyphs" class="yl">7</text>
<text x="484.5" y="197.17" text-anchor="end" textLength="3.0" lengthAdjust="spacingAndGlyphs" class="yl">5</text>
<text x="484.5" y="211.03" text-anchor="end" textLength="3.0" lengthAdjust="spacingAndGlyphs" class="yl">3</text>
<text x="484.5" y="224.89" text-anchor="end" textLength="3.0" lengthAdjust="spacingAndGlyphs" class="yl">1</text>
<text x="53.9" y="239.7" text-anchor="middle" textLength="12.0" lengthAdjust="spacingAndGlyphs" class="xl">0%</text>
<text x="85" y="239.7" text-anchor="middle" textLength="15.5" lengthAdjust="spacingAndGlyphs" class="xl">20%</text>
<text x="118.1" y="239.7" text-anchor="middle" textLength="15.8" lengthAdjust="spacingAndGlyphs" class="xl">40%</text>
<text x="151.1" y="239.7" text-anchor="middle" textLength="15.6" lengthAdjust="spacingAndGlyphs" class="xl">60%</text>
<text x="184.2" y="239.7" text-anchor="middle" textLength="15.6" lengthAdjust="spacingAndGlyphs" class="xl">80%</text>
<text x="219.9" y="239.7" text-anchor="middle" textLength="20.2" lengthAdjust="spacingAndGlyphs" class="xl">100%</text>
<text x="275.9" y="239.7" text-anchor="middle" textLength="12.0" lengthAdjust="spacingAndGlyphs" class="xl">0%</text>
<text x="307" y="239.7" text-anchor="middle" textLength="15.5" lengthAdjust="spacingAndGlyphs" class="xl">20%</text>
<text x="340.1" y="239.7" text-anchor="middle" textLength="15.8" lengthAdjust="spacingAndGlyphs" class="xl">40%</text>
<text x="373.1" y="239.7" text-anchor="middle" textLength="15.6" lengthAdjust="spacingAndGlyphs" class="xl">60%</text>
<text x="406.2" y="239.7" text-anchor="middle" textLength="15.6" lengthAdjust="spacingAndGlyphs" class="xl">80%</text>
<text x="441.9" y="239.7" text-anchor="middle" textLength="20.2" lengthAdjust="spacingAndGlyphs" class="xl">100%</text>
<text x="498.6" y="239.7" text-anchor="middle" textLength="12.0" lengthAdjust="spacingAndGlyphs" class="xl">0%</text>
<text x="529.7" y="239.7" text-anchor="middle" textLength="15.5" lengthAdjust="spacingAndGlyphs" class="xl">20%</text>
<text x="562.8" y="239.7" text-anchor="middle" textLength="15.8" lengthAdjust="spacingAndGlyphs" class="xl">40%</text>
<text x="595.8" y="239.7" text-anchor="middle" textLength="15.6" lengthAdjust="spacingAndGlyphs" class="xl">60%</text>
<text x="628.9" y="239.7" text-anchor="middle" textLength="15.6" lengthAdjust="spacingAndGlyphs" class="xl">80%</text>
<text x="664.6" y="239.7" text-anchor="middle" textLength="20.2" lengthAdjust="spacingAndGlyphs" class="xl">100%</text>

<rect x="71.0" y="28.0" width="132.0" height="14.1" fill="#ffffff"/>
<rect x="76.2" y="33.1" width="4.7" height="4.7" fill="#2F5597"/>
<text x="82.0" y="38.0" textLength="11.9" lengthAdjust="spacingAndGlyphs" class="lg">&lt;70</text>
<rect x="101.3" y="33.1" width="4.7" height="4.7" fill="#A9D18E"/>
<text x="107.6" y="38.0" textLength="22.4" lengthAdjust="spacingAndGlyphs" class="lg">70-180</text>
<rect x="136.8" y="33.1" width="4.7" height="4.7" fill="#FF9999"/>
<text x="142.8" y="38.0" textLength="26.6" lengthAdjust="spacingAndGlyphs" class="lg">180-250</text>
<rect x="176.3" y="33.1" width="4.7" height="4.7" fill="#FF0000"/>
<text x="182.2" y="38.0" textLength="16.7" lengthAdjust="spacingAndGlyphs" class="lg">&gt;250</text>


<text x="113.6" y="16.9" textLength="33.4" lengthAdjust="spacingAndGlyphs" class="tt">Healthy</text>
<text x="326.3" y="16.9" textLength="54.2" lengthAdjust="spacingAndGlyphs" class="tt">Pre-diabetes</text>
<text x="542.3" y="16.9" textLength="66.6" lengthAdjust="spacingAndGlyphs" class="tt">Type 2 diabetes</text>
<text x="-0.7" y="83" textLength="21.2" lengthAdjust="spacingAndGlyphs" class="sd">Libre</text>
<text x="10.8" y="188.5" textLength="12.6" lengthAdjust="spacingAndGlyphs" class="sd">G6</text>

</svg>
</body></html>
